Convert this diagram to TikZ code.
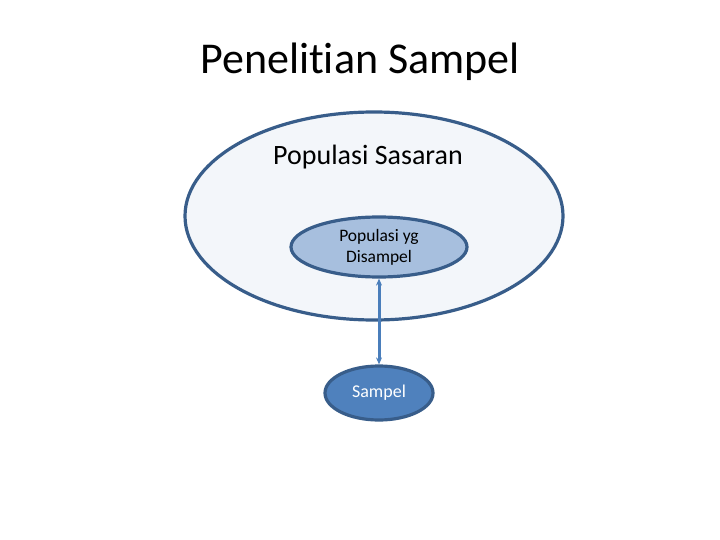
\documentclass[tikz,border=0pt]{standalone}
\usepackage{fontspec}
\setmainfont{Carlito}[Ligatures=NoCommon]
\usetikzlibrary{shapes.geometric,arrows.meta,positioning}
\definecolor{rimblue}{RGB}{56,93,138}
\definecolor{palefill}{RGB}{243,246,250}
\definecolor{midfill}{RGB}{167,191,222}
\definecolor{darkfill}{RGB}{79,129,189}
\definecolor{linkblue}{RGB}{74,126,187}
\tikzset{
	x=1pt, y=-1pt,
	blob/.style={ellipse, draw=rimblue, line width=3.2pt, inner sep=0pt},
	link/.style={{Stealth[length=7pt,width=6pt]}-{Stealth[length=7pt,width=6pt]}, draw=linkblue, line width=3pt},
}

\begin{document}
\begin{tikzpicture}
		\useasboundingbox (0,0) rectangle (720,540);
		\node[font=\fontsize{44}{48}\selectfont] (title) at (360,62) {Penelitian Sampel};

		\node[blob, fill=palefill, minimum width=378pt, minimum height=208pt] (target) at (374,216) {};
		\node[font=\fontsize{28}{32}\selectfont] (targettext) at (368,157) {Populasi Sasaran};
		\node[blob, fill=midfill, minimum width=176pt, minimum height=60pt, align=center,
			font=\fontsize{17.5}{21}\selectfont] (sub) at (379,247) {Populasi yg\\Disampel};
		\node[blob, fill=darkfill, minimum width=108pt, minimum height=54pt, text=white,
			font=\fontsize{18}{20}\selectfont] (smp) at (379,393) {Sampel};

		\draw[link] (sub) -- (smp);
	\end{tikzpicture}
\end{document}
